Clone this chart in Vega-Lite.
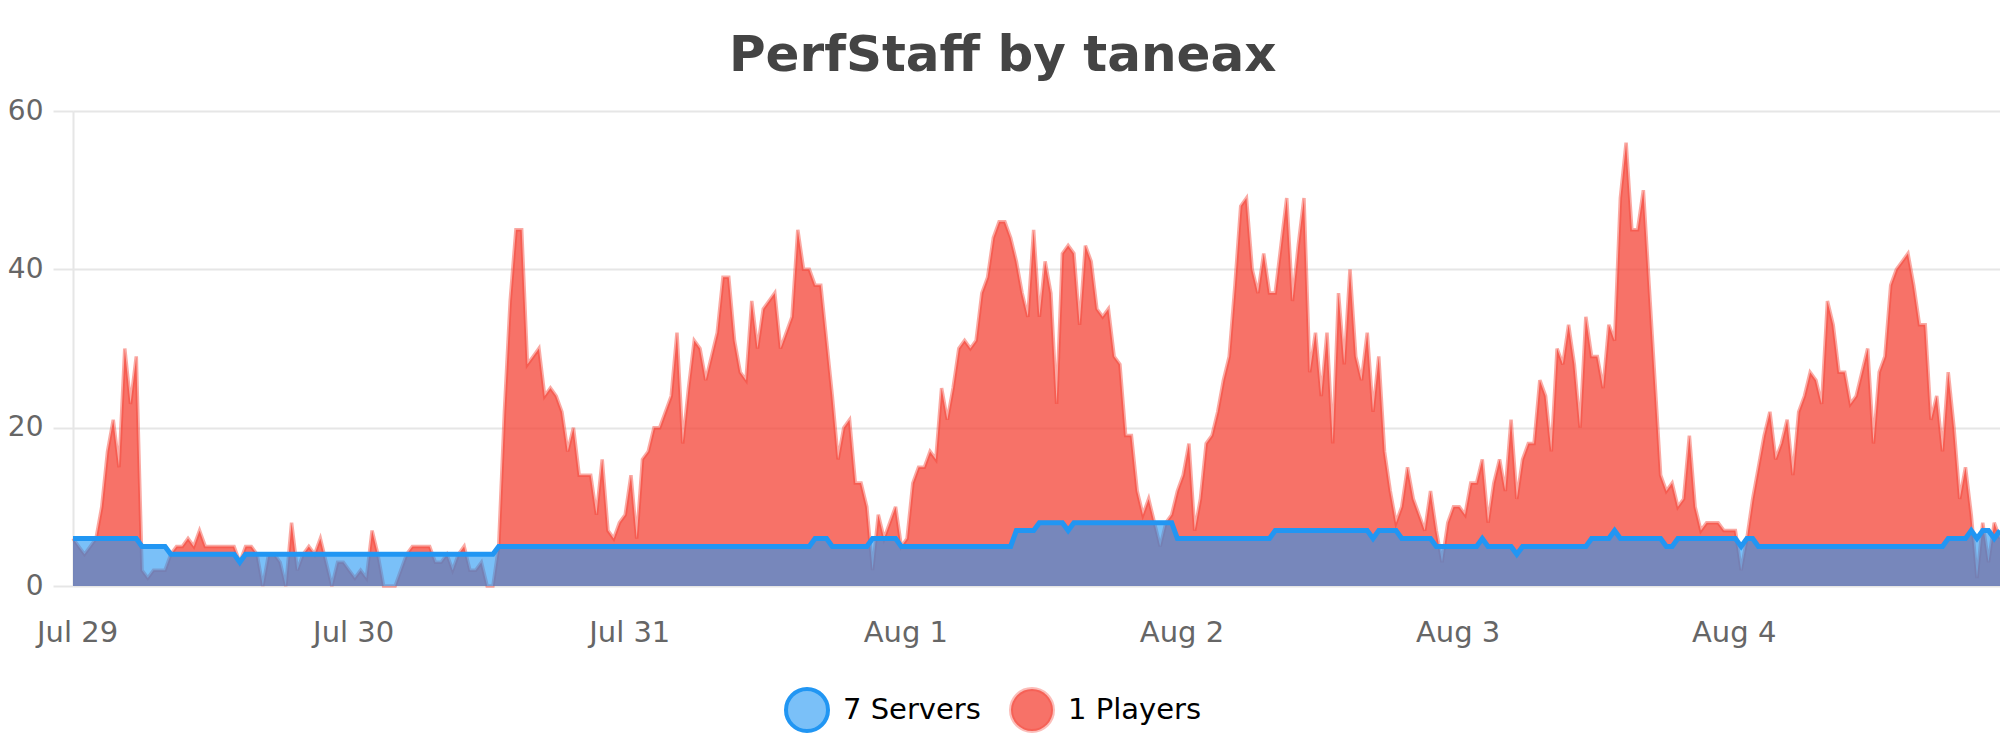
{
  "$schema": "https://vega.github.io/schema/vega-lite/v6.json",
  "width": 1927,
  "height": 475,
  "autosize": {"type": "none"},
  "padding": {"left": 73, "top": 111, "right": 0, "bottom": 164},
  "background": "white",
  "config": {"font": "DejaVu Sans", "view": {"stroke": null}},
  "title": {
    "text": "PerfStaff by taneax",
    "font": "DejaVu Sans",
    "fontSize": 50,
    "fontWeight": "bold",
    "color": "#444444",
    "anchor": "middle",
    "frame": "bounds",
    "offset": 16,
    "dx": -6
  },
  "data": {
    "values": [
      {"t": "2019-07-28T23:39", "p": 6, "s": 6},
      {"t": "2019-07-29T00:09", "p": 5, "s": 6},
      {"t": "2019-07-29T00:39", "p": 4, "s": 6},
      {"t": "2019-07-29T01:09", "p": 5, "s": 6},
      {"t": "2019-07-29T01:39", "p": 6, "s": 6},
      {"t": "2019-07-29T02:09", "p": 10, "s": 6},
      {"t": "2019-07-29T02:39", "p": 17, "s": 6},
      {"t": "2019-07-29T03:09", "p": 21, "s": 6},
      {"t": "2019-07-29T03:39", "p": 15, "s": 6},
      {"t": "2019-07-29T04:09", "p": 30, "s": 6},
      {"t": "2019-07-29T04:39", "p": 23, "s": 6},
      {"t": "2019-07-29T05:09", "p": 29, "s": 6},
      {"t": "2019-07-29T05:39", "p": 2, "s": 5},
      {"t": "2019-07-29T06:09", "p": 1, "s": 5},
      {"t": "2019-07-29T06:39", "p": 2, "s": 5},
      {"t": "2019-07-29T07:09", "p": 2, "s": 5},
      {"t": "2019-07-29T07:39", "p": 2, "s": 5},
      {"t": "2019-07-29T08:09", "p": 4, "s": 4},
      {"t": "2019-07-29T08:39", "p": 5, "s": 4},
      {"t": "2019-07-29T09:09", "p": 5, "s": 4},
      {"t": "2019-07-29T09:39", "p": 6, "s": 4},
      {"t": "2019-07-29T10:09", "p": 5, "s": 4},
      {"t": "2019-07-29T10:39", "p": 7, "s": 4},
      {"t": "2019-07-29T11:09", "p": 5, "s": 4},
      {"t": "2019-07-29T11:39", "p": 5, "s": 4},
      {"t": "2019-07-29T12:09", "p": 5, "s": 4},
      {"t": "2019-07-29T12:39", "p": 5, "s": 4},
      {"t": "2019-07-29T13:09", "p": 5, "s": 4},
      {"t": "2019-07-29T13:39", "p": 5, "s": 4},
      {"t": "2019-07-29T14:09", "p": 3, "s": 3},
      {"t": "2019-07-29T14:39", "p": 5, "s": 4},
      {"t": "2019-07-29T15:09", "p": 5, "s": 4},
      {"t": "2019-07-29T15:39", "p": 4, "s": 4},
      {"t": "2019-07-29T16:09", "p": 0, "s": 4},
      {"t": "2019-07-29T16:39", "p": 4, "s": 4},
      {"t": "2019-07-29T17:09", "p": 4, "s": 4},
      {"t": "2019-07-29T17:39", "p": 3, "s": 4},
      {"t": "2019-07-29T18:09", "p": 0, "s": 4},
      {"t": "2019-07-29T18:39", "p": 8, "s": 4},
      {"t": "2019-07-29T19:09", "p": 2, "s": 4},
      {"t": "2019-07-29T19:39", "p": 4, "s": 4},
      {"t": "2019-07-29T20:09", "p": 5, "s": 4},
      {"t": "2019-07-29T20:39", "p": 4, "s": 4},
      {"t": "2019-07-29T21:09", "p": 6, "s": 4},
      {"t": "2019-07-29T21:39", "p": 3, "s": 4},
      {"t": "2019-07-29T22:09", "p": 0, "s": 4},
      {"t": "2019-07-29T22:39", "p": 3, "s": 4},
      {"t": "2019-07-29T23:09", "p": 3, "s": 4},
      {"t": "2019-07-29T23:39", "p": 2, "s": 4},
      {"t": "2019-07-30T00:09", "p": 1, "s": 4},
      {"t": "2019-07-30T00:39", "p": 2, "s": 4},
      {"t": "2019-07-30T01:09", "p": 1, "s": 4},
      {"t": "2019-07-30T01:39", "p": 7, "s": 4},
      {"t": "2019-07-30T02:09", "p": 4, "s": 4},
      {"t": "2019-07-30T02:39", "p": 0, "s": 4},
      {"t": "2019-07-30T03:09", "p": 0, "s": 4},
      {"t": "2019-07-30T03:39", "p": 0, "s": 4},
      {"t": "2019-07-30T04:09", "p": 2, "s": 4},
      {"t": "2019-07-30T04:39", "p": 4, "s": 4},
      {"t": "2019-07-30T05:09", "p": 5, "s": 4},
      {"t": "2019-07-30T05:39", "p": 5, "s": 4},
      {"t": "2019-07-30T06:09", "p": 5, "s": 4},
      {"t": "2019-07-30T06:39", "p": 5, "s": 4},
      {"t": "2019-07-30T07:09", "p": 3, "s": 4},
      {"t": "2019-07-30T07:39", "p": 3, "s": 4},
      {"t": "2019-07-30T08:09", "p": 4, "s": 4},
      {"t": "2019-07-30T08:39", "p": 2, "s": 4},
      {"t": "2019-07-30T09:09", "p": 4, "s": 4},
      {"t": "2019-07-30T09:39", "p": 5, "s": 4},
      {"t": "2019-07-30T10:09", "p": 2, "s": 4},
      {"t": "2019-07-30T10:39", "p": 2, "s": 4},
      {"t": "2019-07-30T11:09", "p": 3, "s": 4},
      {"t": "2019-07-30T11:39", "p": 0, "s": 4},
      {"t": "2019-07-30T12:09", "p": 0, "s": 4},
      {"t": "2019-07-30T12:39", "p": 5, "s": 5},
      {"t": "2019-07-30T13:09", "p": 22, "s": 5},
      {"t": "2019-07-30T13:39", "p": 36, "s": 5},
      {"t": "2019-07-30T14:09", "p": 45, "s": 5},
      {"t": "2019-07-30T14:39", "p": 45, "s": 5},
      {"t": "2019-07-30T15:09", "p": 28, "s": 5},
      {"t": "2019-07-30T15:39", "p": 29, "s": 5},
      {"t": "2019-07-30T16:09", "p": 30, "s": 5},
      {"t": "2019-07-30T16:39", "p": 24, "s": 5},
      {"t": "2019-07-30T17:09", "p": 25, "s": 5},
      {"t": "2019-07-30T17:39", "p": 24, "s": 5},
      {"t": "2019-07-30T18:09", "p": 22, "s": 5},
      {"t": "2019-07-30T18:39", "p": 17, "s": 5},
      {"t": "2019-07-30T19:09", "p": 20, "s": 5},
      {"t": "2019-07-30T19:39", "p": 14, "s": 5},
      {"t": "2019-07-30T20:09", "p": 14, "s": 5},
      {"t": "2019-07-30T20:39", "p": 14, "s": 5},
      {"t": "2019-07-30T21:09", "p": 9, "s": 5},
      {"t": "2019-07-30T21:39", "p": 16, "s": 5},
      {"t": "2019-07-30T22:09", "p": 7, "s": 5},
      {"t": "2019-07-30T22:39", "p": 6, "s": 5},
      {"t": "2019-07-30T23:09", "p": 8, "s": 5},
      {"t": "2019-07-30T23:39", "p": 9, "s": 5},
      {"t": "2019-07-31T00:09", "p": 14, "s": 5},
      {"t": "2019-07-31T00:39", "p": 6, "s": 5},
      {"t": "2019-07-31T01:09", "p": 16, "s": 5},
      {"t": "2019-07-31T01:39", "p": 17, "s": 5},
      {"t": "2019-07-31T02:09", "p": 20, "s": 5},
      {"t": "2019-07-31T02:39", "p": 20, "s": 5},
      {"t": "2019-07-31T03:09", "p": 22, "s": 5},
      {"t": "2019-07-31T03:39", "p": 24, "s": 5},
      {"t": "2019-07-31T04:09", "p": 32, "s": 5},
      {"t": "2019-07-31T04:39", "p": 18, "s": 5},
      {"t": "2019-07-31T05:09", "p": 25, "s": 5},
      {"t": "2019-07-31T05:39", "p": 31, "s": 5},
      {"t": "2019-07-31T06:09", "p": 30, "s": 5},
      {"t": "2019-07-31T06:39", "p": 26, "s": 5},
      {"t": "2019-07-31T07:09", "p": 29, "s": 5},
      {"t": "2019-07-31T07:39", "p": 32, "s": 5},
      {"t": "2019-07-31T08:09", "p": 39, "s": 5},
      {"t": "2019-07-31T08:39", "p": 39, "s": 5},
      {"t": "2019-07-31T09:09", "p": 31, "s": 5},
      {"t": "2019-07-31T09:39", "p": 27, "s": 5},
      {"t": "2019-07-31T10:09", "p": 26, "s": 5},
      {"t": "2019-07-31T10:39", "p": 36, "s": 5},
      {"t": "2019-07-31T11:09", "p": 30, "s": 5},
      {"t": "2019-07-31T11:39", "p": 35, "s": 5},
      {"t": "2019-07-31T12:09", "p": 36, "s": 5},
      {"t": "2019-07-31T12:39", "p": 37, "s": 5},
      {"t": "2019-07-31T13:09", "p": 30, "s": 5},
      {"t": "2019-07-31T13:39", "p": 32, "s": 5},
      {"t": "2019-07-31T14:09", "p": 34, "s": 5},
      {"t": "2019-07-31T14:39", "p": 45, "s": 5},
      {"t": "2019-07-31T15:09", "p": 40, "s": 5},
      {"t": "2019-07-31T15:39", "p": 40, "s": 5},
      {"t": "2019-07-31T16:09", "p": 38, "s": 6},
      {"t": "2019-07-31T16:39", "p": 38, "s": 6},
      {"t": "2019-07-31T17:09", "p": 31, "s": 6},
      {"t": "2019-07-31T17:39", "p": 24, "s": 5},
      {"t": "2019-07-31T18:09", "p": 16, "s": 5},
      {"t": "2019-07-31T18:39", "p": 20, "s": 5},
      {"t": "2019-07-31T19:09", "p": 21, "s": 5},
      {"t": "2019-07-31T19:39", "p": 13, "s": 5},
      {"t": "2019-07-31T20:09", "p": 13, "s": 5},
      {"t": "2019-07-31T20:39", "p": 10, "s": 5},
      {"t": "2019-07-31T21:09", "p": 2, "s": 6},
      {"t": "2019-07-31T21:39", "p": 9, "s": 6},
      {"t": "2019-07-31T22:09", "p": 6, "s": 6},
      {"t": "2019-07-31T22:39", "p": 8, "s": 6},
      {"t": "2019-07-31T23:09", "p": 10, "s": 6},
      {"t": "2019-07-31T23:39", "p": 5, "s": 5},
      {"t": "2019-08-01T00:09", "p": 6, "s": 5},
      {"t": "2019-08-01T00:39", "p": 13, "s": 5},
      {"t": "2019-08-01T01:09", "p": 15, "s": 5},
      {"t": "2019-08-01T01:39", "p": 15, "s": 5},
      {"t": "2019-08-01T02:09", "p": 17, "s": 5},
      {"t": "2019-08-01T02:39", "p": 16, "s": 5},
      {"t": "2019-08-01T03:09", "p": 25, "s": 5},
      {"t": "2019-08-01T03:39", "p": 21, "s": 5},
      {"t": "2019-08-01T04:09", "p": 25, "s": 5},
      {"t": "2019-08-01T04:39", "p": 30, "s": 5},
      {"t": "2019-08-01T05:09", "p": 31, "s": 5},
      {"t": "2019-08-01T05:39", "p": 30, "s": 5},
      {"t": "2019-08-01T06:09", "p": 31, "s": 5},
      {"t": "2019-08-01T06:39", "p": 37, "s": 5},
      {"t": "2019-08-01T07:09", "p": 39, "s": 5},
      {"t": "2019-08-01T07:39", "p": 44, "s": 5},
      {"t": "2019-08-01T08:09", "p": 46, "s": 5},
      {"t": "2019-08-01T08:39", "p": 46, "s": 5},
      {"t": "2019-08-01T09:09", "p": 44, "s": 5},
      {"t": "2019-08-01T09:39", "p": 41, "s": 7},
      {"t": "2019-08-01T10:09", "p": 37, "s": 7},
      {"t": "2019-08-01T10:39", "p": 34, "s": 7},
      {"t": "2019-08-01T11:09", "p": 45, "s": 7},
      {"t": "2019-08-01T11:39", "p": 34, "s": 8},
      {"t": "2019-08-01T12:09", "p": 41, "s": 8},
      {"t": "2019-08-01T12:39", "p": 37, "s": 8},
      {"t": "2019-08-01T13:09", "p": 23, "s": 8},
      {"t": "2019-08-01T13:39", "p": 42, "s": 8},
      {"t": "2019-08-01T14:09", "p": 43, "s": 7},
      {"t": "2019-08-01T14:39", "p": 42, "s": 8},
      {"t": "2019-08-01T15:09", "p": 33, "s": 8},
      {"t": "2019-08-01T15:39", "p": 43, "s": 8},
      {"t": "2019-08-01T16:09", "p": 41, "s": 8},
      {"t": "2019-08-01T16:39", "p": 35, "s": 8},
      {"t": "2019-08-01T17:09", "p": 34, "s": 8},
      {"t": "2019-08-01T17:39", "p": 35, "s": 8},
      {"t": "2019-08-01T18:09", "p": 29, "s": 8},
      {"t": "2019-08-01T18:39", "p": 28, "s": 8},
      {"t": "2019-08-01T19:09", "p": 19, "s": 8},
      {"t": "2019-08-01T19:39", "p": 19, "s": 8},
      {"t": "2019-08-01T20:09", "p": 12, "s": 8},
      {"t": "2019-08-01T20:39", "p": 9, "s": 8},
      {"t": "2019-08-01T21:09", "p": 11, "s": 8},
      {"t": "2019-08-01T21:39", "p": 8, "s": 8},
      {"t": "2019-08-01T22:09", "p": 5, "s": 8},
      {"t": "2019-08-01T22:39", "p": 8, "s": 8},
      {"t": "2019-08-01T23:09", "p": 9, "s": 8},
      {"t": "2019-08-01T23:39", "p": 12, "s": 6},
      {"t": "2019-08-02T00:09", "p": 14, "s": 6},
      {"t": "2019-08-02T00:39", "p": 18, "s": 6},
      {"t": "2019-08-02T01:09", "p": 7, "s": 6},
      {"t": "2019-08-02T01:39", "p": 11, "s": 6},
      {"t": "2019-08-02T02:09", "p": 18, "s": 6},
      {"t": "2019-08-02T02:39", "p": 19, "s": 6},
      {"t": "2019-08-02T03:09", "p": 22, "s": 6},
      {"t": "2019-08-02T03:39", "p": 26, "s": 6},
      {"t": "2019-08-02T04:09", "p": 29, "s": 6},
      {"t": "2019-08-02T04:39", "p": 38, "s": 6},
      {"t": "2019-08-02T05:09", "p": 48, "s": 6},
      {"t": "2019-08-02T05:39", "p": 49, "s": 6},
      {"t": "2019-08-02T06:09", "p": 40, "s": 6},
      {"t": "2019-08-02T06:39", "p": 37, "s": 6},
      {"t": "2019-08-02T07:09", "p": 42, "s": 6},
      {"t": "2019-08-02T07:39", "p": 37, "s": 6},
      {"t": "2019-08-02T08:09", "p": 37, "s": 7},
      {"t": "2019-08-02T08:39", "p": 43, "s": 7},
      {"t": "2019-08-02T09:09", "p": 49, "s": 7},
      {"t": "2019-08-02T09:39", "p": 36, "s": 7},
      {"t": "2019-08-02T10:09", "p": 43, "s": 7},
      {"t": "2019-08-02T10:39", "p": 49, "s": 7},
      {"t": "2019-08-02T11:09", "p": 27, "s": 7},
      {"t": "2019-08-02T11:39", "p": 32, "s": 7},
      {"t": "2019-08-02T12:09", "p": 24, "s": 7},
      {"t": "2019-08-02T12:39", "p": 32, "s": 7},
      {"t": "2019-08-02T13:09", "p": 18, "s": 7},
      {"t": "2019-08-02T13:39", "p": 37, "s": 7},
      {"t": "2019-08-02T14:09", "p": 28, "s": 7},
      {"t": "2019-08-02T14:39", "p": 40, "s": 7},
      {"t": "2019-08-02T15:09", "p": 29, "s": 7},
      {"t": "2019-08-02T15:39", "p": 26, "s": 7},
      {"t": "2019-08-02T16:09", "p": 32, "s": 7},
      {"t": "2019-08-02T16:39", "p": 22, "s": 6},
      {"t": "2019-08-02T17:09", "p": 29, "s": 7},
      {"t": "2019-08-02T17:39", "p": 17, "s": 7},
      {"t": "2019-08-02T18:09", "p": 12, "s": 7},
      {"t": "2019-08-02T18:39", "p": 8, "s": 7},
      {"t": "2019-08-02T19:09", "p": 10, "s": 6},
      {"t": "2019-08-02T19:39", "p": 15, "s": 6},
      {"t": "2019-08-02T20:09", "p": 11, "s": 6},
      {"t": "2019-08-02T20:39", "p": 9, "s": 6},
      {"t": "2019-08-02T21:09", "p": 7, "s": 6},
      {"t": "2019-08-02T21:39", "p": 12, "s": 6},
      {"t": "2019-08-02T22:09", "p": 7, "s": 5},
      {"t": "2019-08-02T22:39", "p": 3, "s": 5},
      {"t": "2019-08-02T23:09", "p": 8, "s": 5},
      {"t": "2019-08-02T23:39", "p": 10, "s": 5},
      {"t": "2019-08-03T00:09", "p": 10, "s": 5},
      {"t": "2019-08-03T00:39", "p": 9, "s": 5},
      {"t": "2019-08-03T01:09", "p": 13, "s": 5},
      {"t": "2019-08-03T01:39", "p": 13, "s": 5},
      {"t": "2019-08-03T02:09", "p": 16, "s": 6},
      {"t": "2019-08-03T02:39", "p": 8, "s": 5},
      {"t": "2019-08-03T03:09", "p": 13, "s": 5},
      {"t": "2019-08-03T03:39", "p": 16, "s": 5},
      {"t": "2019-08-03T04:09", "p": 12, "s": 5},
      {"t": "2019-08-03T04:39", "p": 21, "s": 5},
      {"t": "2019-08-03T05:09", "p": 11, "s": 4},
      {"t": "2019-08-03T05:39", "p": 16, "s": 5},
      {"t": "2019-08-03T06:09", "p": 18, "s": 5},
      {"t": "2019-08-03T06:39", "p": 18, "s": 5},
      {"t": "2019-08-03T07:09", "p": 26, "s": 5},
      {"t": "2019-08-03T07:39", "p": 24, "s": 5},
      {"t": "2019-08-03T08:09", "p": 17, "s": 5},
      {"t": "2019-08-03T08:39", "p": 30, "s": 5},
      {"t": "2019-08-03T09:09", "p": 28, "s": 5},
      {"t": "2019-08-03T09:39", "p": 33, "s": 5},
      {"t": "2019-08-03T10:09", "p": 28, "s": 5},
      {"t": "2019-08-03T10:39", "p": 20, "s": 5},
      {"t": "2019-08-03T11:09", "p": 34, "s": 5},
      {"t": "2019-08-03T11:39", "p": 29, "s": 6},
      {"t": "2019-08-03T12:09", "p": 29, "s": 6},
      {"t": "2019-08-03T12:39", "p": 25, "s": 6},
      {"t": "2019-08-03T13:09", "p": 33, "s": 6},
      {"t": "2019-08-03T13:39", "p": 31, "s": 7},
      {"t": "2019-08-03T14:09", "p": 49, "s": 6},
      {"t": "2019-08-03T14:39", "p": 56, "s": 6},
      {"t": "2019-08-03T15:09", "p": 45, "s": 6},
      {"t": "2019-08-03T15:39", "p": 45, "s": 6},
      {"t": "2019-08-03T16:09", "p": 50, "s": 6},
      {"t": "2019-08-03T16:39", "p": 38, "s": 6},
      {"t": "2019-08-03T17:09", "p": 26, "s": 6},
      {"t": "2019-08-03T17:39", "p": 14, "s": 6},
      {"t": "2019-08-03T18:09", "p": 12, "s": 5},
      {"t": "2019-08-03T18:39", "p": 13, "s": 5},
      {"t": "2019-08-03T19:09", "p": 10, "s": 6},
      {"t": "2019-08-03T19:39", "p": 11, "s": 6},
      {"t": "2019-08-03T20:09", "p": 19, "s": 6},
      {"t": "2019-08-03T20:39", "p": 10, "s": 6},
      {"t": "2019-08-03T21:09", "p": 7, "s": 6},
      {"t": "2019-08-03T21:39", "p": 8, "s": 6},
      {"t": "2019-08-03T22:09", "p": 8, "s": 6},
      {"t": "2019-08-03T22:39", "p": 8, "s": 6},
      {"t": "2019-08-03T23:09", "p": 7, "s": 6},
      {"t": "2019-08-03T23:39", "p": 7, "s": 6},
      {"t": "2019-08-04T00:09", "p": 7, "s": 6},
      {"t": "2019-08-04T00:39", "p": 2, "s": 5},
      {"t": "2019-08-04T01:09", "p": 6, "s": 6},
      {"t": "2019-08-04T01:39", "p": 11, "s": 6},
      {"t": "2019-08-04T02:09", "p": 15, "s": 5},
      {"t": "2019-08-04T02:39", "p": 19, "s": 5},
      {"t": "2019-08-04T03:09", "p": 22, "s": 5},
      {"t": "2019-08-04T03:39", "p": 16, "s": 5},
      {"t": "2019-08-04T04:09", "p": 18, "s": 5},
      {"t": "2019-08-04T04:39", "p": 21, "s": 5},
      {"t": "2019-08-04T05:09", "p": 14, "s": 5},
      {"t": "2019-08-04T05:39", "p": 22, "s": 5},
      {"t": "2019-08-04T06:09", "p": 24, "s": 5},
      {"t": "2019-08-04T06:39", "p": 27, "s": 5},
      {"t": "2019-08-04T07:09", "p": 26, "s": 5},
      {"t": "2019-08-04T07:39", "p": 23, "s": 5},
      {"t": "2019-08-04T08:09", "p": 36, "s": 5},
      {"t": "2019-08-04T08:39", "p": 33, "s": 5},
      {"t": "2019-08-04T09:09", "p": 27, "s": 5},
      {"t": "2019-08-04T09:39", "p": 27, "s": 5},
      {"t": "2019-08-04T10:09", "p": 23, "s": 5},
      {"t": "2019-08-04T10:39", "p": 24, "s": 5},
      {"t": "2019-08-04T11:09", "p": 27, "s": 5},
      {"t": "2019-08-04T11:39", "p": 30, "s": 5},
      {"t": "2019-08-04T12:09", "p": 18, "s": 5},
      {"t": "2019-08-04T12:39", "p": 27, "s": 5},
      {"t": "2019-08-04T13:09", "p": 29, "s": 5},
      {"t": "2019-08-04T13:39", "p": 38, "s": 5},
      {"t": "2019-08-04T14:09", "p": 40, "s": 5},
      {"t": "2019-08-04T14:39", "p": 41, "s": 5},
      {"t": "2019-08-04T15:09", "p": 42, "s": 5},
      {"t": "2019-08-04T15:39", "p": 38, "s": 5},
      {"t": "2019-08-04T16:09", "p": 33, "s": 5},
      {"t": "2019-08-04T16:39", "p": 33, "s": 5},
      {"t": "2019-08-04T17:09", "p": 21, "s": 5},
      {"t": "2019-08-04T17:39", "p": 24, "s": 5},
      {"t": "2019-08-04T18:09", "p": 17, "s": 5},
      {"t": "2019-08-04T18:39", "p": 27, "s": 6},
      {"t": "2019-08-04T19:09", "p": 20, "s": 6},
      {"t": "2019-08-04T19:39", "p": 11, "s": 6},
      {"t": "2019-08-04T20:09", "p": 15, "s": 6},
      {"t": "2019-08-04T20:39", "p": 9, "s": 7},
      {"t": "2019-08-04T21:09", "p": 1, "s": 6},
      {"t": "2019-08-04T21:39", "p": 8, "s": 7},
      {"t": "2019-08-04T22:09", "p": 3, "s": 7},
      {"t": "2019-08-04T22:39", "p": 8, "s": 6},
      {"t": "2019-08-04T23:09", "p": 6, "s": 7}
    ]
  },
  "encoding": {
    "x": {
      "field": "t",
      "type": "temporal",
      "scale": {
        "domain": [
          {"year": 2019, "month": 7, "date": 28, "hours": 23, "minutes": 39},
          {"year": 2019, "month": 8, "date": 4, "hours": 23, "minutes": 9}
        ]
      },
      "axis": {
        "title": null,
        "format": "%b %-d",
        "tickCount": {"interval": "day", "step": 1},
        "grid": false,
        "domain": false,
        "ticks": false,
        "labelPadding": 32,
        "labelFontSize": 29,
        "labelColor": "#666666",
        "labelFlush": false,
        "labelOverlap": false
      }
    }
  },
  "layer": [
    {
      "mark": {"type": "area", "fill": "#f44336", "fillOpacity": 0.75},
      "encoding": {
        "y": {
          "field": "p",
          "type": "quantitative",
          "scale": {"domain": [0, 60], "nice": false},
          "axis": {
            "title": null,
            "values": [0, 20, 40, 60],
            "grid": true,
            "gridColor": "#e6e6e6",
            "gridWidth": 2,
            "domain": true,
            "domainColor": "#e6e6e6",
            "domainWidth": 2,
            "ticks": true,
            "tickSize": 20,
            "tickColor": "#e6e6e6",
            "tickWidth": 2,
            "labelPadding": 10,
            "labelFontSize": 28,
            "labelColor": "#666666"
          }
        }
      }
    },
    {
      "mark": {"type": "line", "stroke": "#f44336", "strokeOpacity": 0.45, "strokeWidth": 3.5},
      "encoding": {"y": {"field": "p", "type": "quantitative"}}
    },
    {
      "mark": {"type": "area", "fill": "#2196f3", "fillOpacity": 0.6},
      "encoding": {"y": {"field": "s", "type": "quantitative"}}
    },
    {
      "mark": {"type": "line", "stroke": "#2196f3", "strokeWidth": 5},
      "encoding": {"y": {"field": "s", "type": "quantitative"}}
    },
    {
      "transform": [{"filter": "false"}],
      "mark": {"type": "point", "filled": true, "strokeWidth": 4},
      "encoding": {
        "y": {"field": "s", "type": "quantitative"},
        "fill": {
          "datum": "7 Servers",
          "scale": {"domain": ["7 Servers", "1 Players"], "range": ["#7ac0f8", "#f77268"]},
          "legend": {
            "title": null,
            "orient": "none",
            "legendX": 711,
            "legendY": 576,
            "direction": "horizontal",
            "symbolType": "circle",
            "symbolSize": 1764,
            "symbolStrokeWidth": 4,
            "symbolOpacity": 1,
            "labelFontSize": 29,
            "labelColor": "#000000",
            "labelOffset": 13,
            "columnPadding": 22,
            "padding": 0
          }
        },
        "stroke": {
          "datum": "7 Servers",
          "scale": {"domain": ["7 Servers", "1 Players"], "range": ["#2196f3", "rgba(244,67,54,0.35)"]},
          "legend": {
            "title": null,
            "orient": "none",
            "legendX": 711,
            "legendY": 576,
            "direction": "horizontal",
            "symbolType": "circle",
            "symbolSize": 1764,
            "symbolStrokeWidth": 4,
            "symbolOpacity": 1,
            "labelFontSize": 29,
            "labelColor": "#000000",
            "labelOffset": 13,
            "columnPadding": 22,
            "padding": 0
          }
        }
      }
    }
  ]
}
